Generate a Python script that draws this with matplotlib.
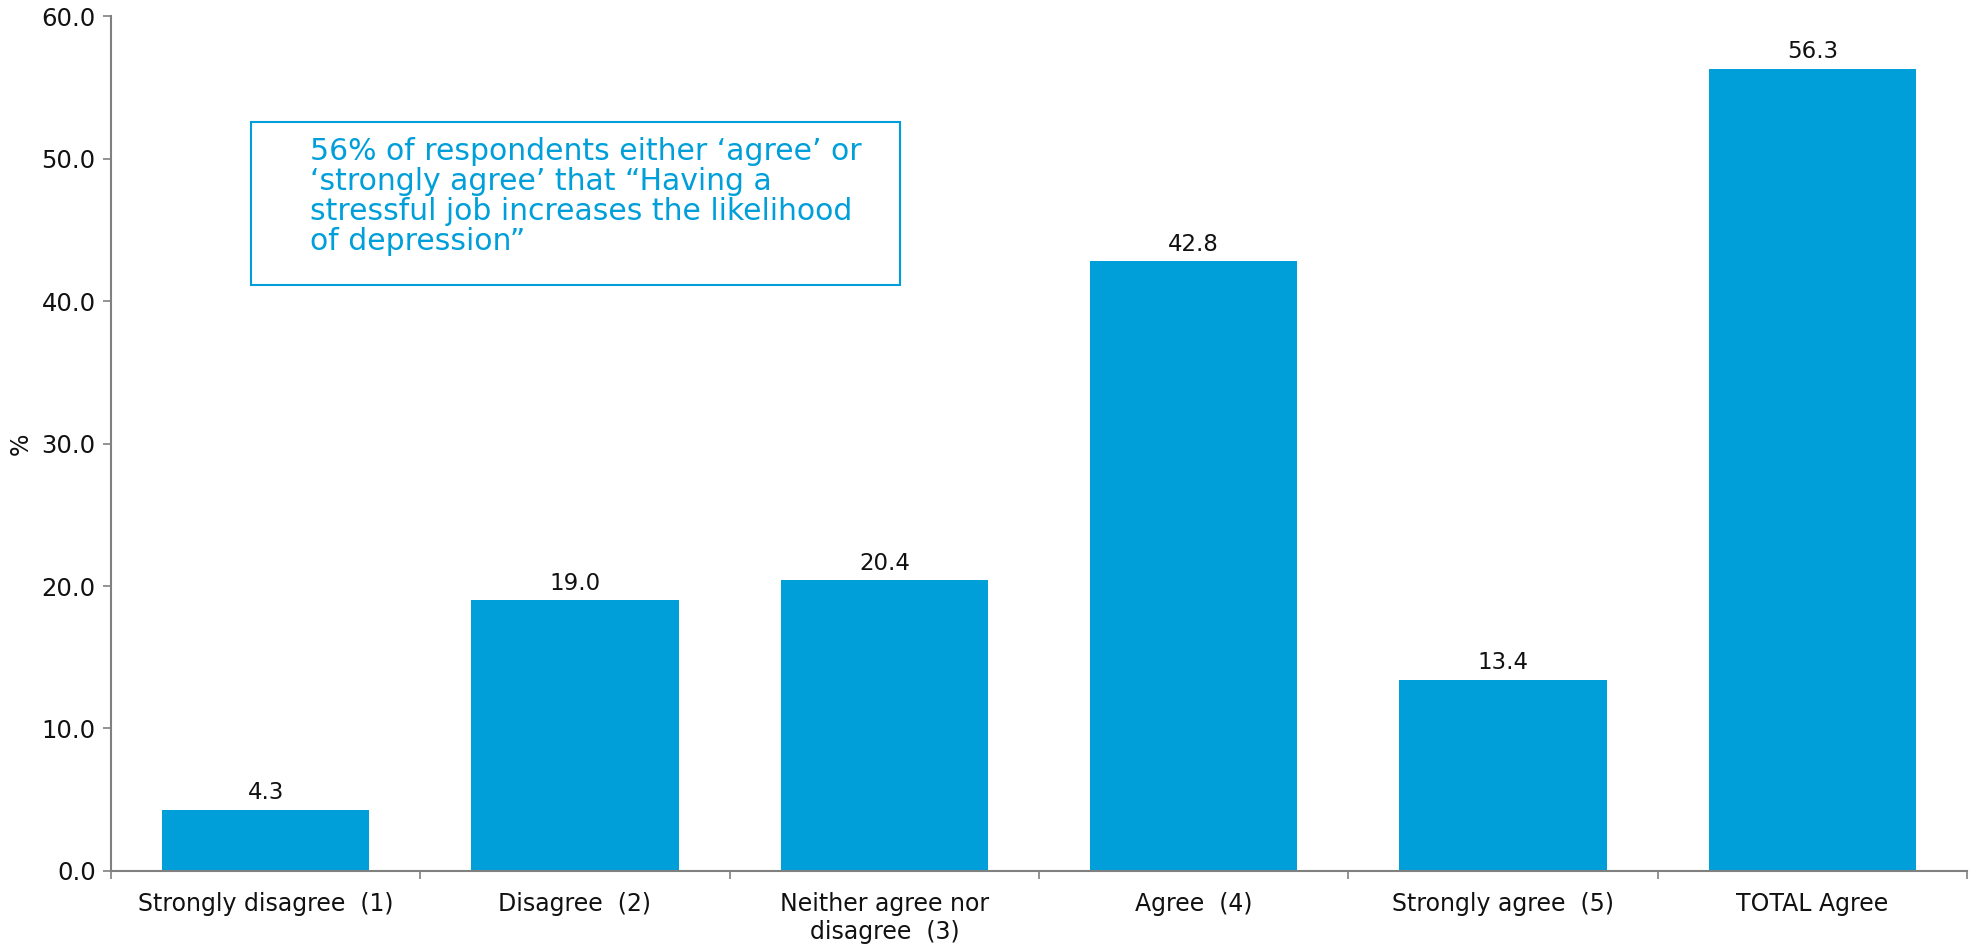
import matplotlib.pyplot as plt
from matplotlib.ticker import FormatStrFormatter, MultipleLocator
import numpy as np

# Responses to "Having a stressful job increases the likelihood of depression"
categories = ['Strongly disagree  (1)', 'Disagree  (2)', 'Neither agree nor\ndisagree  (3)',
              'Agree  (4)', 'Strongly agree  (5)', 'TOTAL Agree']
percent = [4.3, 19.0, 20.4, 42.8, 13.4, 56.3]

bar_color = '#009FDA'
axis_color = '#808080'
text_color = '#111111'

plt.rcParams['font.family'] = ['DejaVu Sans']

fig = plt.figure(figsize=(19.71, 9.46), dpi=100)
ax = fig.add_axes([0.0563, 0.0793, 0.9417, 0.9037])

x = np.arange(len(categories))
ax.bar(x, percent, width=0.67, color=bar_color, zorder=2)

for xi, v in zip(x, percent):
    ax.annotate(f'{v:.1f}', (xi, v), xytext=(0, 4), textcoords='offset points',
                ha='center', va='bottom', fontsize=16.5, color=text_color)

ax.set_xlim(-0.5, len(categories) - 0.5)
ax.set_ylim(0, 60)
ax.yaxis.set_major_locator(MultipleLocator(10))
ax.yaxis.set_major_formatter(FormatStrFormatter('%.1f'))

# labels sit under the bars, tick marks at the category boundaries
ax.set_xticks(x)
ax.set_xticklabels(categories, fontsize=17, color=text_color)
ax.set_xticks(np.arange(-0.5, len(categories)), minor=True)
ax.tick_params(axis='x', which='major', length=0, pad=15)
ax.tick_params(axis='x', which='minor', length=6, color=axis_color, width=1.2)
ax.tick_params(axis='y', length=6, color=axis_color, width=1.2, labelsize=17.5,
               labelcolor=text_color, pad=5)

for side in ['top', 'right']:
    ax.spines[side].set_visible(False)
for side in ['left', 'bottom']:
    ax.spines[side].set_color(axis_color)
    ax.spines[side].set_linewidth(1.5)

ax.set_ylabel('%', fontsize=17, color=text_color, labelpad=6)

# callout box
box = plt.Rectangle((0.0752, 0.685), 0.350, 0.191, transform=ax.transAxes,
                    fill=False, edgecolor=bar_color, linewidth=1.5, zorder=3)
ax.add_patch(box)
ax.text(0.107, 0.859,
        '56% of respondents either \u2018agree\u2019 or\n'
        '\u2018strongly agree\u2019 that \u201cHaving a\n'
        'stressful job increases the likelihood\n'
        'of depression\u201d',
        transform=ax.transAxes, ha='left', va='top', fontsize=21.5,
        color=bar_color, linespacing=1.05, zorder=3)

fig.savefig('out.png', dpi=100)
plt.close(fig)
